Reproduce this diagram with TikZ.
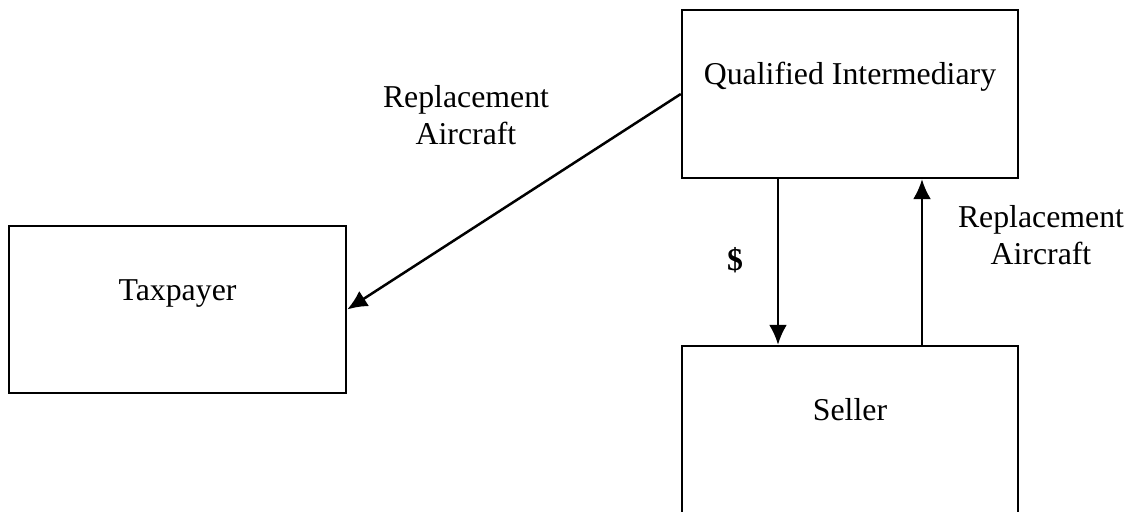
\documentclass[tikz,border=0pt]{standalone}
\usepackage{fontspec}
\setmainfont{Liberation Serif}
\usetikzlibrary{arrows.meta,calc}

\tikzset{
  party/.style={draw,line width=1.2pt,minimum width=168pt,minimum height=84pt,inner sep=0pt},
  flow/.style={line width=1.25pt,-{Latex[length=10pt,width=9pt]}},
}

\begin{document}
\begin{tikzpicture}[x=1pt,y=1pt,font=\fontsize{15.9}{18.5}\selectfont]
\useasboundingbox (0,0) rectangle (568.5,256);
%boxes
\node[party] (qi) at (425,209) {};
\node[party] (seller) at (425,41) {};
\node[party,minimum width=168.5pt,minimum height=83.5pt] (tax) at (88.75,101.25) {};
%names sit in the upper half of each box
\foreach \b/\t in {qi/Qualified Intermediary,seller/Seller,tax/Taxpayer}
\node[anchor=base] (\b-name) at ($(\b.north)+(0,-38)$) {\t};
%aircraft to taxpayer
\draw[flow] (qi.west) -- (tax.east);
\node[anchor=base,align=center] (qi-tax) at (233,183.5) {Replacement\\Aircraft};
%cash down, aircraft up
\draw[flow] ($(qi.south)+(-36,0)$) -- ($(seller.north)+(-36,0)$);
\node[anchor=base] (cash) at (367.5,120.5) {\textbf{\$}};
\draw[flow] ($(seller.north)+(36,0)$) -- ($(qi.south)+(36,0)$);
\node[anchor=base,align=center] (seller-qi) at (520.5,123.5) {Replacement\\Aircraft};
\end{tikzpicture}
\end{document}
